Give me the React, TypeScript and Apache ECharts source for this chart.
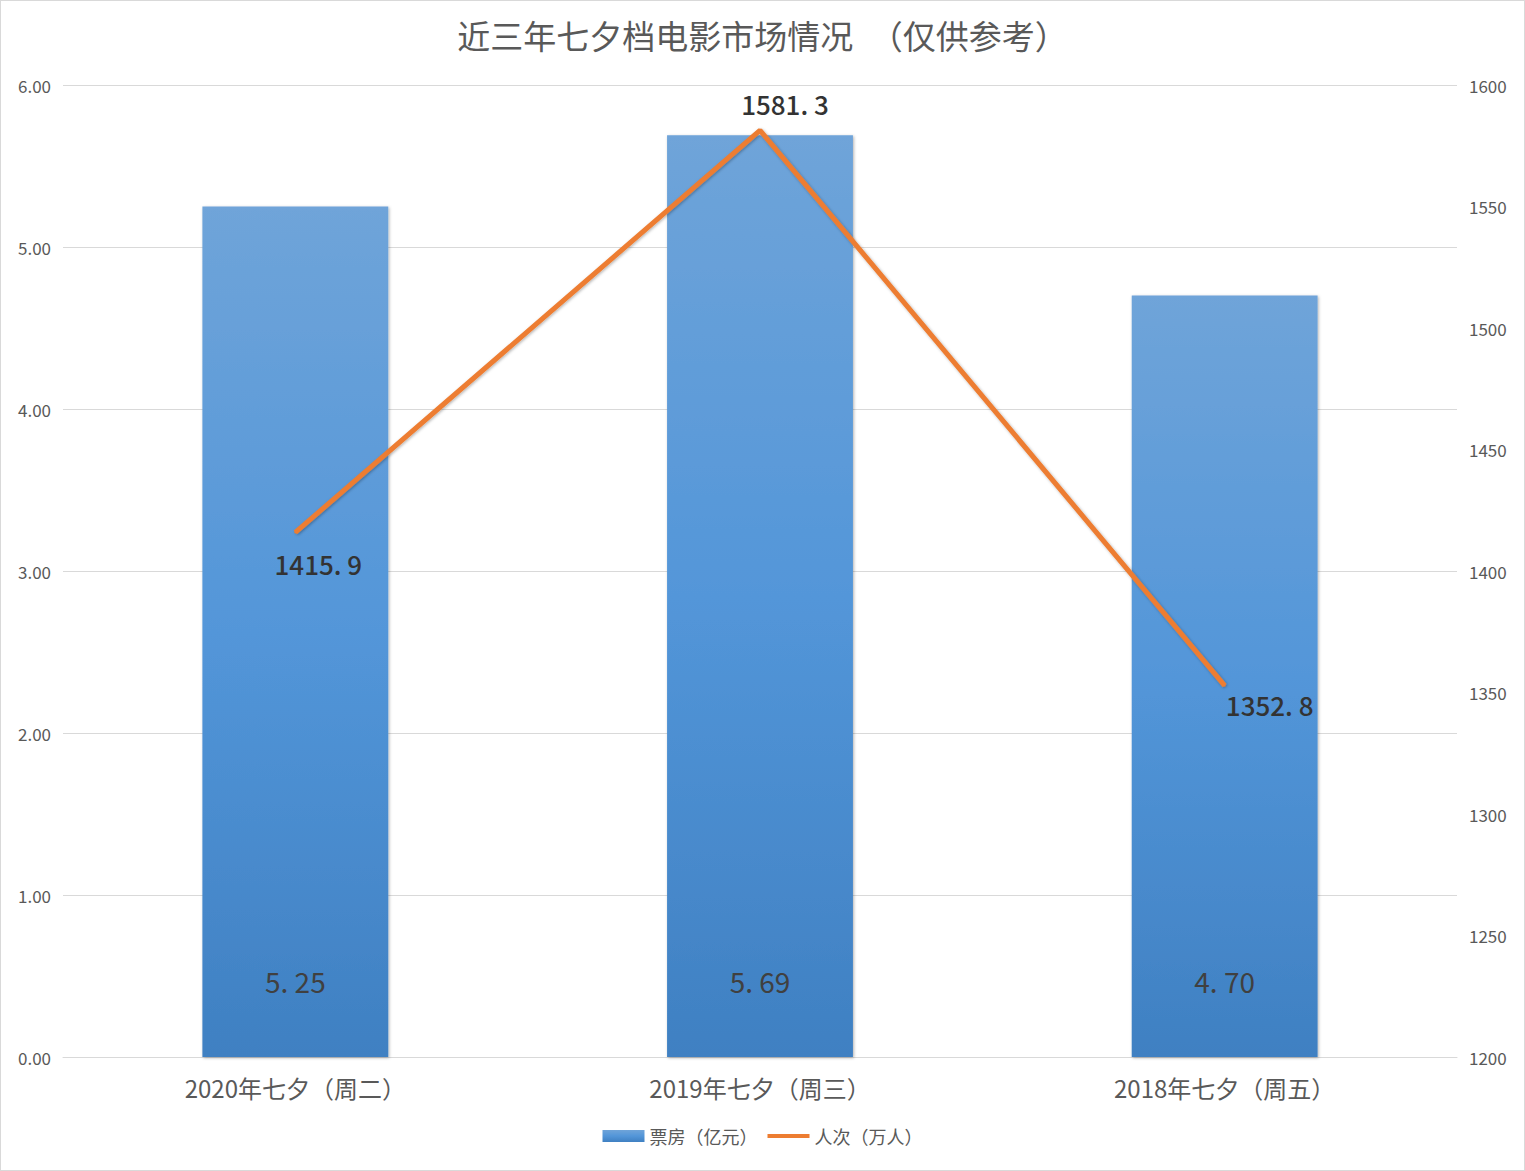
import React, { useEffect, useRef } from "react";
import * as echarts from "echarts";

const categories = ["2020年七夕（周二）", "2019年七夕（周三）", "2018年七夕（周五）"];
const boxOffice = [5.25, 5.69, 4.7];
const boxOfficeLabels = ["5. 25", "5. 69", "4. 70"];
const admissions = [1415.9, 1581.3, 1352.8];
const admissionLabels = ["1415. 9", "1581. 3", "1352. 8"];
const seriesNames = ["票房（亿元）", "人次（万人）"];
const titleText = "近三年七夕档电影市场情况　（仅供参考）";

const FONT = "'Noto Sans CJK SC', 'Noto Sans', sans-serif";

export default function App() {
  const ref = useRef<HTMLDivElement>(null);
  useEffect(() => {
    if (!ref.current) return;
    const chart = echarts.init(ref.current, null, { renderer: "svg" });
    const linePos: any[] = [
      { position: "bottom", offset: [23, 12] },
      { position: "top", offset: [25, -8] },
      { position: "bottom", offset: [45, 0] },
    ];
    chart.setOption({
      animation: false,
      backgroundColor: "#ffffff",
      textStyle: { fontFamily: FONT },
      title: {
        text: titleText,
        left: "center",
        top: 12,
        textStyle: { fontFamily: FONT, fontSize: 33, fontWeight: "normal", color: "#595959" },
      },
      legend: {
        bottom: 20,
        left: "center",
        itemGap: 10,
        itemWidth: 42,
        itemHeight: 12,
        textStyle: { fontFamily: FONT, fontSize: 18, color: "#595959" },
        data: [
          { name: seriesNames[0], icon: "rect" },
          { name: seriesNames[1], icon: "path://M0,0 L42,0 L42,4 L0,4 Z" },
        ],
      },
      grid: { left: 62, right: 67, top: 84, bottom: 113, containLabel: false },
      xAxis: {
        type: "category",
        data: categories,
        axisLine: { lineStyle: { color: "#d9d9d9", width: 1 } },
        axisTick: { show: false },
        axisLabel: { fontFamily: FONT, fontSize: 24, color: "#595959", margin: 18 },
      },
      yAxis: [
        {
          type: "value",
          min: 0,
          max: 6,
          interval: 1,
          axisLine: { show: false },
          axisTick: { show: false },
          axisLabel: {
            fontFamily: FONT,
            fontSize: 17,
            color: "#595959",
            margin: 12,
            formatter: (v: number) => v.toFixed(2),
          },
          splitLine: { lineStyle: { color: "#d9d9d9", width: 1 } },
        },
        {
          type: "value",
          min: 1200,
          max: 1600,
          interval: 50,
          axisLine: { show: false },
          axisTick: { show: false },
          axisLabel: {
            fontFamily: FONT,
            fontSize: 17,
            color: "#595959",
            margin: 12,
            formatter: (v: number) => String(v),
          },
          splitLine: { show: false },
        },
      ],
      series: [
        {
          name: seriesNames[0],
          type: "bar",
          yAxisIndex: 0,
          barWidth: "40%",
          data: boxOffice,
          itemStyle: {
            color: new echarts.graphic.LinearGradient(0, 0, 0, 1, [
              { offset: 0, color: "#6fa4d9" },
              { offset: 0.5, color: "#5396d9" },
              { offset: 1, color: "#3f80c2" },
            ]),
            shadowColor: "rgba(0,0,0,0.3)",
            shadowBlur: 3,
            shadowOffsetX: 1,
            shadowOffsetY: 1,
          },
          label: {
            show: true,
            position: "insideBottom",
            distance: 62,
            fontFamily: FONT,
            fontSize: 28,
            color: "#404040",
            formatter: (p: any) => boxOfficeLabels[p.dataIndex],
          },
        },
        {
          name: seriesNames[1],
          type: "line",
          yAxisIndex: 1,
          data: admissions.map((v, i) => ({ value: v, label: linePos[i] })),
          symbol: "circle",
          symbolSize: 2,
          itemStyle: { color: "#ed7d31" },
          lineStyle: {
            color: "#ed7d31",
            width: 5,
            shadowColor: "rgba(0,0,0,0.3)",
            shadowBlur: 3,
            shadowOffsetX: 1,
            shadowOffsetY: 1,
          },
          label: {
            show: true,
            fontFamily: FONT,
            fontSize: 26,
            fontWeight: 500,
            color: "#333333",
            formatter: (p: any) => admissionLabels[p.dataIndex],
          },
        },
      ],
    });
    return () => chart.dispose();
  }, []);
  return (
    <div
      ref={ref}
      style={{
        position: "fixed",
        left: 0,
        top: 0,
        width: 1525,
        height: 1171,
        border: "1px solid #d9d9d9",
        boxSizing: "border-box",
      }}
    />
  );
}
